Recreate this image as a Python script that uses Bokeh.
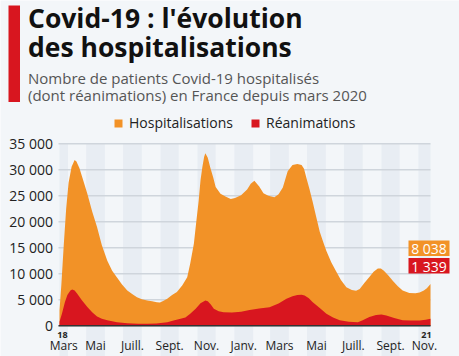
import pandas as pd
from bokeh.plotting import figure
from bokeh.models import Range1d, Legend, LegendItem, ColumnDataSource
from bokeh.core.properties import value
from bokeh.embed import file_html
from bokeh.resources import INLINE

# ---------------- data ----------------
hosp_dates = [
    "2020-03-18", "2020-03-21", "2020-03-25", "2020-03-29", "2020-04-02", "2020-04-07",
    "2020-04-12", "2020-04-15", "2020-04-20", "2020-04-25", "2020-05-03", "2020-05-11",
    "2020-05-19", "2020-05-27", "2020-06-05", "2020-06-13", "2020-06-21", "2020-06-29",
    "2020-07-08", "2020-07-16", "2020-07-24", "2020-08-01", "2020-08-10", "2020-08-18",
    "2020-08-26", "2020-08-31", "2020-09-06", "2020-09-12", "2020-09-20", "2020-09-28",
    "2020-10-07", "2020-10-15", "2020-10-20", "2020-10-26", "2020-10-30", "2020-11-03",
    "2020-11-06", "2020-11-09", "2020-11-12", "2020-11-14", "2020-11-18", "2020-11-22",
    "2020-11-27", "2020-12-01", "2020-12-09", "2020-12-18", "2020-12-26", "2021-01-02",
    "2021-01-12", "2021-01-22", "2021-01-28", "2021-02-03", "2021-02-11", "2021-02-18",
    "2021-02-26", "2021-03-08", "2021-03-15", "2021-03-22", "2021-03-30", "2021-04-07",
    "2021-04-15", "2021-04-22", "2021-04-26", "2021-04-30", "2021-05-05", "2021-05-10",
    "2021-05-16", "2021-05-22", "2021-05-28", "2021-06-02", "2021-06-10", "2021-06-18",
    "2021-06-26", "2021-07-05", "2021-07-14", "2021-07-21", "2021-07-27", "2021-08-04",
    "2021-08-12", "2021-08-19", "2021-08-26", "2021-08-31", "2021-09-05", "2021-09-12",
    "2021-09-20", "2021-09-28", "2021-10-06", "2021-10-17", "2021-10-27", "2021-11-03",
    "2021-11-10", "2021-11-15", "2021-11-21",
]
hosp = [
    2970, 7800, 15500, 22500, 27500, 30600,
    31900, 31600, 30300, 28400, 25400, 22000,
    19000, 15500, 12500, 10600, 9300, 8000,
    6800, 6100, 5500, 5100, 4870, 4700,
    4550, 4500, 4800, 5200, 5900, 6500,
    7800, 9350, 12000, 15800, 20000, 24100,
    28000, 30500, 32500, 33200, 32300, 30500,
    28500, 26700, 25400, 24800, 24400, 24600,
    25100, 26200, 27300, 27900, 26800, 25500,
    25000, 24700, 25300, 26600, 29700, 30900,
    31100, 30900, 30200, 28400, 26300, 24000,
    21000, 18100, 16000, 14400, 12200, 10500,
    8800, 7400, 6900, 6750, 7100, 8300,
    9400, 10400, 11000, 11000, 10600, 9700,
    8600, 7600, 6800, 6300, 6250, 6400,
    6800, 7200, 8038,
]
rea_dates = [
    "2020-03-18", "2020-03-22", "2020-03-27", "2020-03-31", "2020-04-05", "2020-04-08",
    "2020-04-12", "2020-04-16", "2020-04-24", "2020-05-03", "2020-05-11", "2020-05-19",
    "2020-05-27", "2020-06-05", "2020-06-21", "2020-07-08", "2020-07-26", "2020-08-10",
    "2020-08-25", "2020-09-12", "2020-09-24", "2020-10-04", "2020-10-12", "2020-10-20",
    "2020-10-29", "2020-11-06", "2020-11-14", "2020-11-18", "2020-11-23", "2020-11-28",
    "2020-12-06", "2020-12-14", "2020-12-28", "2021-01-12", "2021-01-26", "2021-02-11",
    "2021-02-28", "2021-03-15", "2021-03-28", "2021-04-07", "2021-04-15", "2021-04-22",
    "2021-04-27", "2021-05-04", "2021-05-10", "2021-05-22", "2021-06-02", "2021-06-13",
    "2021-06-24", "2021-07-09", "2021-07-24", "2021-08-01", "2021-08-12", "2021-08-23",
    "2021-09-01", "2021-09-09", "2021-09-22", "2021-10-06", "2021-10-19", "2021-11-03",
    "2021-11-13", "2021-11-21",
]
rea = [
    770, 2300, 4600, 5900, 6800, 7000,
    6800, 6200, 4900, 3600, 2600, 1800,
    1350, 1050, 700, 500, 400, 380,
    420, 700, 1050, 1350, 1600, 2300,
    3300, 4350, 4850, 4700, 4100, 3300,
    2800, 2600, 2550, 2700, 3050, 3350,
    3550, 4300, 5200, 5700, 5900, 5950,
    5850, 5300, 4600, 3400, 2300, 1600,
    1050, 800, 700, 1050, 1700, 2100,
    2150, 2000, 1500, 1050, 1000, 1000,
    1150, 1339,
]
y_ticks = [0, 5000, 10000, 15000, 20000, 25000, 30000, 35000]
month_starts = ["2020-03-01", "2020-05-01", "2020-07-01", "2020-09-01", "2020-11-01",
                "2021-01-01", "2021-03-01", "2021-05-01", "2021-07-01", "2021-09-01",
                "2021-11-01"]
month_labels = ["Mars", "Mai", "Juill.", "Sept.", "Nov.", "Janv.", "Mars", "Mai",
                "Juill.", "Sept.", "Nov."]
start_label = "18"
end_label = "21"
series_names = ["Hospitalisations", "Réanimations"]
title_lines = ["Covid-19 : l'évolution", "des hospitalisations"]
subtitle_lines = ["Nombre de patients Covid-19 hospitalisés",
                  "(dont réanimations) en France depuis mars 2020"]

# ---------------- styles ----------------
ORANGE = "#f29227"
RED = "#d8161f"
BG = "#f3f6f9"
STRIPE = "#e8edf3"
GRID = "#cfd5dc"
FONT = value("Open Sans")

start = pd.Timestamp(hosp_dates[0])
end = pd.Timestamp(hosp_dates[-1])


def to_days(ds):
    return [(pd.Timestamp(d) - start).days for d in ds]


W, H = 459, 356
PX0, PX1 = 59.0, 430.0
NDAYS = (end - start).days
KX = (PX1 - PX0) / NDAYS
PY0, PY35 = 325.3, 143.3
KY = (PY0 - PY35) / 35000.0


def X(px):
    return (px - PX0) / KX


def Y(py):
    return (PY0 - py) / KY


def fmt(v):
    return f"{v:,}".replace(",", " ")


p = figure(width=W, height=H, output_backend="svg", toolbar_location=None,
           x_range=Range1d(X(0), X(W)), y_range=Range1d(Y(H), Y(0)),
           x_axis_type=None, y_axis_type=None, min_border=0,
           background_fill_color=BG, border_fill_color=BG, tools="")
p.outline_line_color = None
p.grid.visible = False

# month stripes
s_left, s_right, s_mid = [], [], []
for ms in month_starts:
    a = max(pd.Timestamp(ms), start)
    b = min(pd.Timestamp(ms) + pd.offsets.MonthBegin(1), end)
    s_left.append((a - start).days)
    s_right.append((b - start).days)
    s_mid.append(((a - start).days + (b - start).days) / 2)
p.quad(left=s_left, right=s_right, bottom=Y(H), top=max(y_ticks),
       fill_color=STRIPE, line_color=None)

# horizontal grid lines
p.segment(x0=[X(58)] * len(y_ticks), x1=[NDAYS] * len(y_ticks),
          y0=y_ticks, y1=y_ticks, line_color=GRID, line_width=1.6)

# areas
hsrc = ColumnDataSource(dict(x=to_days(hosp_dates), y=hosp))
rsrc = ColumnDataSource(dict(x=to_days(rea_dates), y=rea))
r_h = p.varea(x="x", y1=0, y2="y", source=hsrc, fill_color=ORANGE)
r_r = p.varea(x="x", y1=0, y2="y", source=rsrc, fill_color=RED)

# baseline
p.segment(x0=[X(58)], x1=[NDAYS], y0=[0], y1=[0], line_color="#333333", line_width=1.5)

# y tick labels
p.text(x=[X(52.5)] * len(y_ticks), y=y_ticks, text=[fmt(v) for v in y_ticks],
       text_font=FONT, text_font_size="14px", text_color="#222222",
       text_align="right", text_baseline="middle")

# x labels
p.text(x=s_mid, y=[Y(345.2)] * len(s_mid), text=month_labels,
       text_font=FONT, text_font_size="12px", text_color="#222222",
       text_align="center", text_baseline="middle")
p.text(x=[X(62), X(426)], y=[Y(334.8)] * 2, text=[start_label, end_label],
       text_font=FONT, text_font_size="9px", text_font_style="bold",
       text_color="#222222", text_align="center", text_baseline="middle")

# end value boxes
p.quad(left=[X(408)] * 2, right=[X(449)] * 2,
       top=[Y(240), Y(257.5)], bottom=[Y(255.5), Y(273)],
       fill_color=[ORANGE, RED], line_color=None)
p.text(x=[X(428.5)] * 2, y=[Y(248), Y(265.5)], text=[fmt(hosp[-1]), fmt(rea[-1])],
       text_font=FONT, text_font_size="14px", text_color="white",
       text_align="center", text_baseline="middle")

# header
p.quad(left=[X(8)], right=[X(19.5)], top=[Y(5)], bottom=[Y(101.5)],
       fill_color=RED, line_color=None)
p.text(x=[X(27.5)] * 2, y=[Y(17.8), Y(46.6)], text=title_lines,
       text_font=FONT, text_font_size="26.5px", text_font_style="bold",
       text_color="#111111", text_align="left", text_baseline="middle")
p.text(x=[X(27.5)] * 2, y=[Y(77.3), Y(94.6)], text=subtitle_lines,
       text_font=FONT, text_font_size="15px", text_color="#555555",
       text_align="left", text_baseline="middle")

# legend
legend = Legend(items=[LegendItem(label=series_names[0], renderers=[r_h]),
                       LegendItem(label=series_names[1], renderers=[r_r])],
                orientation="horizontal", location=(113, H - 132))
legend.label_text_font = "Open Sans"
legend.label_text_font_size = "14px"
legend.label_text_color = "#222222"
legend.glyph_width = 10
legend.glyph_height = 10
legend.label_standoff = 6
legend.spacing = 17
legend.padding = 0
legend.margin = 0
legend.label_height = 16
legend.background_fill_alpha = 0
legend.border_line_color = None
p.add_layout(legend)

open("out.html", "w").write(file_html(p, INLINE))
